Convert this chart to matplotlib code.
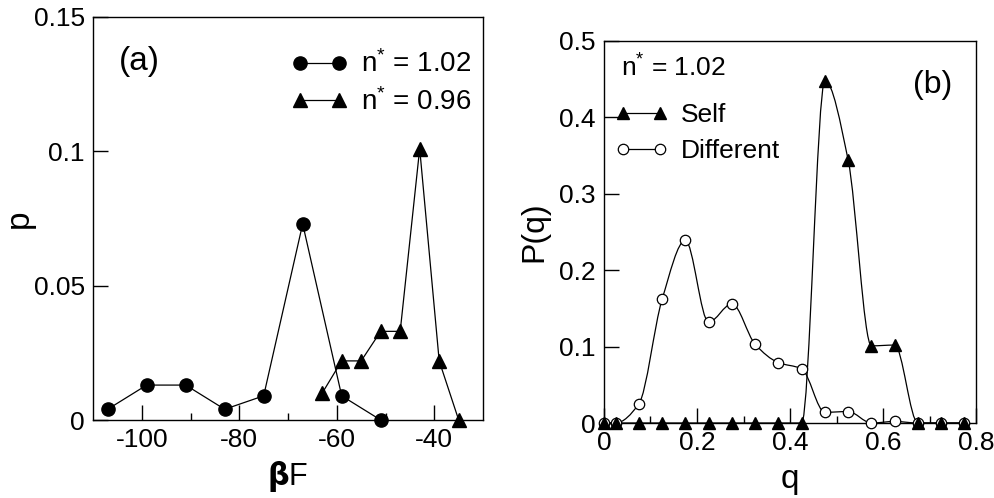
import numpy as np
import matplotlib
matplotlib.use("Agg")
import matplotlib.pyplot as plt
from matplotlib.path import Path
from matplotlib.patches import PathPatch

plt.rcParams['font.family'] = ['Liberation Sans', 'DejaVu Sans']
plt.rcParams['mathtext.fontset'] = 'custom'
plt.rcParams['mathtext.rm'] = 'Liberation Sans'
plt.rcParams['mathtext.it'] = 'Liberation Sans'

# panel (a): free-energy distributions
bf_102 = [-107, -99, -91, -83, -75, -67, -59, -51]
p_102 = [0.004, 0.013, 0.013, 0.004, 0.009, 0.073, 0.009, 0.0]
bf_096 = [-63, -59, -55, -51, -47, -43, -39, -35]
p_096 = [0.010, 0.022, 0.022, 0.033, 0.033, 0.101, 0.022, 0.0]

# panel (b): overlap distributions
q_vals = [0.0, 0.025, 0.075, 0.125, 0.175, 0.225, 0.275, 0.325, 0.375,
          0.425, 0.475, 0.525, 0.575, 0.625, 0.675, 0.725, 0.775]
pq_self = [0, 0, 0, 0, 0, 0, 0, 0, 0,
           0, 0.448, 0.344, 0.101, 0.102, 0, 0, 0]
pq_diff = [0, 0, 0.025, 0.162, 0.239, 0.132, 0.156, 0.103, 0.079,
           0.071, 0.014, 0.015, 0.0, 0.002, 0, 0, 0]

a_xticks = [-100, -80, -60, -40]
a_xlabels = ['-100', '-80', '-60', '-40']
a_yticks = [0, 0.05, 0.1, 0.15]
a_ylabels = ['0', '0.05', '0.1', '0.15']
b_xticks = [0, 0.2, 0.4, 0.6, 0.8]
b_xlabels = ['0', '0.2', '0.4', '0.6', '0.8']
b_yticks = [0, 0.1, 0.2, 0.3, 0.4, 0.5]
b_ylabels = ['0', '0.1', '0.2', '0.3', '0.4', '0.5']

TICK_FS = 19
LABEL_FS = 21


def smooth_path(xs, ys):
    # monotone cubic (Fritsch-Carlson) curve through the points, as Bezier segments
    x = np.asarray(xs, float)
    y = np.asarray(ys, float)
    h = np.diff(x)
    d = np.diff(y) / h
    m = np.zeros_like(y)
    m[0], m[-1] = d[0], d[-1]
    for i in range(1, len(x) - 1):
        if d[i - 1] * d[i] > 0:
            w1 = 2 * h[i] + h[i - 1]
            w2 = h[i] + 2 * h[i - 1]
            m[i] = (w1 + w2) / (w1 / d[i - 1] + w2 / d[i])
    verts = [(x[0], y[0])]
    codes = [Path.MOVETO]
    for i in range(len(x) - 1):
        verts += [(x[i] + h[i] / 3, y[i] + m[i] * h[i] / 3),
                  (x[i + 1] - h[i] / 3, y[i + 1] - m[i + 1] * h[i] / 3),
                  (x[i + 1], y[i + 1])]
        codes += [Path.CURVE4] * 3
    return Path(verts, codes)


def style_axes(ax):
    for s in ax.spines.values():
        s.set_linewidth(1.0)
    ax.tick_params(which='both', direction='in', top=False, right=False,
                   labelsize=TICK_FS, colors='black', pad=6)
    ax.tick_params(which='major', length=11, width=1)
    ax.tick_params(which='minor', length=5, width=1)


fig = plt.figure(figsize=(9.95, 4.98), dpi=100)
ax1 = fig.add_axes([0.0935, 0.1566, 0.392, 0.8093])
ax2 = fig.add_axes([0.607, 0.1506, 0.374, 0.7671])

# ---- panel (a)
ax1.plot(bf_102, p_102, '-', color='black', lw=0.9, marker='o', ms=9.5,
         label='n$^{*}$ = 1.02', clip_on=False, zorder=3)
ax1.plot(bf_096, p_096, '-', color='black', lw=0.9, marker='^', ms=10,
         label='n$^{*}$ = 0.96', clip_on=False, zorder=3)
ax1.set_xlim(-110, -30)
ax1.set_ylim(0, 0.15)
ax1.set_xticks(a_xticks, a_xlabels)
ax1.set_xticks([-90, -70, -50], minor=True)
ax1.set_yticks(a_yticks, a_ylabels)
style_axes(ax1)
ax1.set_xlabel(r'$\mathbf{\beta}$F', fontsize=LABEL_FS + 1, labelpad=5)
ax1.set_ylabel('p', fontsize=LABEL_FS + 3)
ax1.yaxis.set_label_coords(-0.148, 0.5)
ax1.text(0.065, 0.89, '(a)', transform=ax1.transAxes, fontsize=LABEL_FS + 3,
         va='center')
ax1.legend(loc='upper right', bbox_to_anchor=(1.02, 0.965), numpoints=2,
           frameon=False, fontsize=LABEL_FS - 1, handlelength=2.0,
           handletextpad=0.5, labelspacing=0.35, borderaxespad=0.3)

# ---- panel (b)
ax2.add_patch(PathPatch(smooth_path(q_vals, pq_self), fc='none', ec='black',
                        lw=0.9, zorder=2))
ax2.add_patch(PathPatch(smooth_path(q_vals, pq_diff), fc='none', ec='black',
                        lw=0.9, zorder=2))
ax2.plot(q_vals, pq_self, ls='none', color='black', marker='^', ms=8,
         clip_on=False, zorder=4)
ax2.plot(q_vals, pq_diff, ls='none', color='black', marker='o', ms=7.5,
         mfc='white', mew=0.9, clip_on=False, zorder=3)
# legend proxies
ax2.plot([], [], '-', color='black', lw=0.9, marker='^', ms=8, label='Self')
ax2.plot([], [], '-', color='black', lw=0.9, marker='o', ms=7.5,
         mfc='white', mew=0.9, label='Different')
ax2.set_xlim(0, 0.8)
ax2.set_ylim(0, 0.5)
ax2.set_xticks(b_xticks, b_xlabels)
ax2.set_xticks([0.1, 0.3, 0.5, 0.7], minor=True)
ax2.set_yticks(b_yticks, b_ylabels)
style_axes(ax2)
ax2.set_xlabel('q', fontsize=LABEL_FS + 3, labelpad=6)
ax2.set_ylabel('P(q)', fontsize=LABEL_FS + 2, labelpad=7)
ax2.text(0.045, 0.93, 'n$^{*}$ = 1.02', transform=ax2.transAxes,
         fontsize=LABEL_FS - 2, va='center')
ax2.text(0.83, 0.885, '(b)', transform=ax2.transAxes, fontsize=LABEL_FS + 2,
         va='center')
ax2.legend(loc='upper left', bbox_to_anchor=(-0.02, 0.885), numpoints=2,
           frameon=False, fontsize=LABEL_FS - 2, handlelength=2.0,
           handletextpad=0.5, labelspacing=0.45, borderaxespad=0.3)

fig.savefig('out.png', dpi=100)
